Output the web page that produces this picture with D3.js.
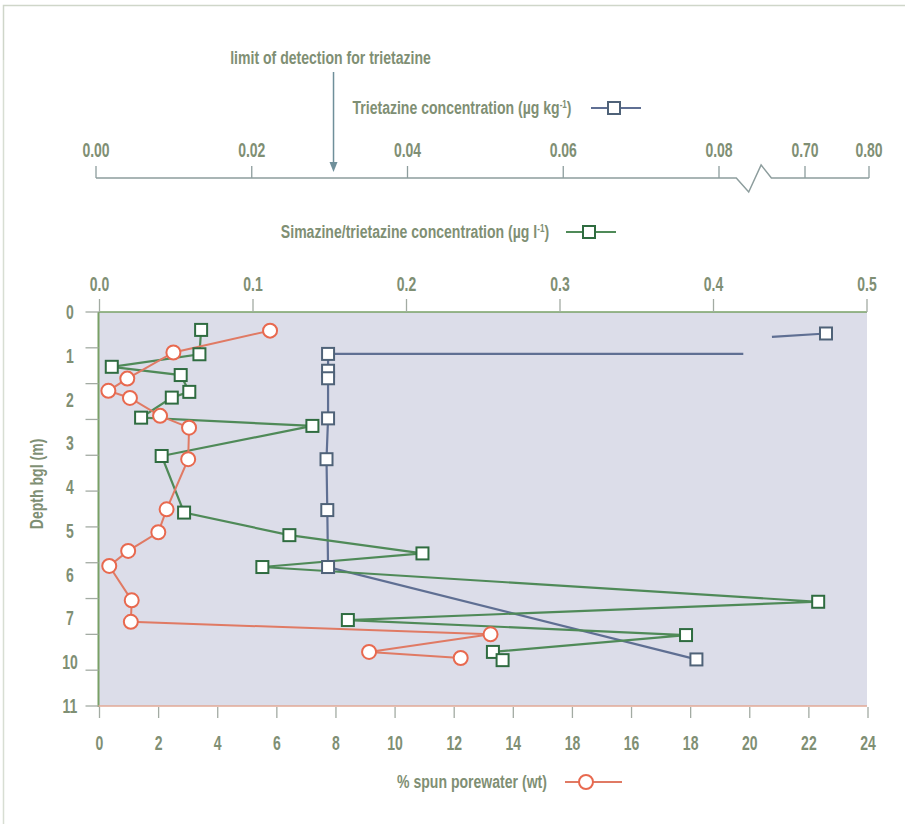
<!DOCTYPE html>
<html><head><meta charset="utf-8">
<script src="https://cdn.jsdelivr.net/npm/d3@7"></script>
<style>
html,body{margin:0;padding:0;background:#fff;}
svg{display:block;font-family:"Liberation Sans",Arial,sans-serif;}
</style></head>
<body><svg id="c" width="905" height="824"></svg>
<script>
// ---- data ----
// depth values are in plotted depth-axis units (ticks 0..11)
const depthTicks = [0,1,2,3,4,5,6,7,8,9,10,11];
const depthLabels = ["0","1","2","3","4","5","6","7","10","11"];
const porewaterTickVals = [0,2,4,6,8,10,12,14,16,18,20,22,24,26];
const porewaterTickLabels = ["0","2","4","6","8","10","12","14","18","16","18","20","22","24"];
const simTickVals = [0,0.1,0.2,0.3,0.4,0.5];
const simTickLabels = ["0.0","0.1","0.2","0.3","0.4","0.5"];
const trietTickVals = [0,0.02,0.04,0.06,0.08,0.70,0.80];
const trietTickLabels = ["0.00","0.02","0.04","0.06","0.08","0.70","0.80"];
const detectionLimit = 0.0305;

const porewaterDepth = [0.52,1.13,1.86,2.20,2.40,2.90,3.23,4.11,5.51,6.15,6.67,7.09,8.05,8.65,9.00,9.49,9.66];
const porewaterValue = [5.77,2.50,0.94,0.30,1.03,2.05,3.03,3.00,2.27,1.99,0.97,0.33,1.09,1.06,13.23,9.12,12.22];

const simazineDepth = [0.50,1.18,1.53,1.76,2.23,2.39,2.95,3.18,4.02,5.60,6.23,6.74,7.12,8.09,8.60,9.02,9.49,9.72];
const simazineValue = [0.0662,0.0651,0.0080,0.0529,0.0585,0.0471,0.0271,0.1387,0.0405,0.0551,0.1237,0.2104,0.1061,0.4682,0.1618,0.3821,0.2563,0.2626];

const trietazineDepth = [0.60,1.17,1.64,1.85,2.97,4.11,5.53,7.12,9.70];
const trietazineValue = [0.7328,0.0298,0.0298,0.0298,0.0298,0.0296,0.0297,0.0298,0.0771];

// ---- layout ----
const svg = d3.select("#c");
const L = 98.5, R = 867, T = 312, B = 706;
const textCol = "#7f8f74", greenAxis = "#79a066", tickCol = "#a3aba3";
const blueCol = "#5f6f93", blueMark = "#4f6278";
const greenCol = "#4f8a58", greenMark = "#2f6c40";
const orangeCol = "#e07a64", orangeMark = "#e8694f";

const y = d3.scaleLinear().domain([0,11]).range([T,B]);
const xPore = d3.scaleLinear().domain([0,26]).range([99.5,868]);
const xSim = d3.scaleLinear().domain([0,0.5]).range([99.5,867]);
// broken axis: [0,0.08] normal, (0.08,0.65) break, [0.65,0.80] upper part
const xTri = d3.scaleLinear().domain([0,0.08,0.65,0.80]).range([96,719,773,869]);

// condensed text helper
function txt(x, yy, str, size, sx, anchor, rot){
  const t = svg.append("text")
    .attr("transform", `translate(${x},${yy})` + (rot ? ` rotate(${rot})` : "") + ` scale(${sx},1)`)
    .attr("text-anchor", anchor || "middle").attr("font-size", size)
    .attr("font-weight", "bold").attr("fill", textCol);
  if (str !== null) t.text(str);
  return t;
}
const TICK_FS = 20, TICK_SX = 0.7, TITLE_FS = 19, TITLE_SX = 0.74;

// frame
svg.append("path").attr("d",`M3.5,60 V5.5 H905`).attr("fill","none").attr("stroke","#cfd6c9").attr("stroke-width",1.5);
svg.append("line").attr("x1",3.5).attr("x2",3.5).attr("y1",60).attr("y2",824).attr("stroke","#d8ded3").attr("stroke-width",1.5);

// plot background
svg.append("rect").attr("x",L).attr("y",T).attr("width",R-L).attr("height",B-T).attr("fill","#dcdde9");

// ---- top (trietazine) axis ----
const topY = 178;
const bx0 = xTri(0.08), bx1 = xTri(0.65), bw = bx1-bx0;
svg.append("path")
  .attr("d",`M${xTri(0)},${topY} H${bx0+bw*0.32} L${bx0+bw*0.55},${topY+14} L${bx0+bw*0.78},${topY-13} L${bx0+bw*0.97},${topY} H${xTri(0.80)}`)
  .attr("fill","none").attr("stroke","#8d9d9d").attr("stroke-width",1.5);
trietTickVals.forEach((v,i)=>{
  svg.append("line").attr("x1",xTri(v)).attr("x2",xTri(v)).attr("y1",topY).attr("y2",topY-12)
    .attr("stroke","#8d9d9d").attr("stroke-width",1.3);
  txt(xTri(v), 157, trietTickLabels[i], TICK_FS, TICK_SX);
});
// detection limit
txt(xTri(detectionLimit)-3, 64, "limit of detection for trietazine", TITLE_FS, TITLE_SX);
svg.append("line").attr("x1",xTri(detectionLimit)).attr("x2",xTri(detectionLimit)).attr("y1",72).attr("y2",166)
  .attr("stroke","#6f8f9a").attr("stroke-width",1.5);
svg.append("path").attr("d",`M${xTri(detectionLimit)-4},${162} L${xTri(detectionLimit)},${172} L${xTri(detectionLimit)+4},${162} Z`)
  .attr("fill","#6f8f9a");

// legend helper
function legendSq(cx,cy,lineCol,markCol){
  svg.append("line").attr("x1",cx-23).attr("x2",cx+27).attr("y1",cy).attr("y2",cy).attr("stroke",lineCol).attr("stroke-width",2);
  svg.append("rect").attr("x",cx-6).attr("y",cy-6).attr("width",12).attr("height",12).attr("fill","#fff").attr("stroke",markCol).attr("stroke-width",2);
}
const t1 = txt(462, 114, null, TITLE_FS, TITLE_SX);
t1.append("tspan").text("Trietazine concentration (µg kg");
t1.append("tspan").attr("dy",-6).attr("font-size",11).text("-1");
t1.append("tspan").attr("dy",6).text(")");
legendSq(614,108,blueCol,blueMark);

const t2 = txt(415, 238, null, TITLE_FS, TITLE_SX);
t2.append("tspan").text("Simazine/trietazine concentration (µg l");
t2.append("tspan").attr("dy",-6).attr("font-size",11).text("-1");
t2.append("tspan").attr("dy",6).text(")");
legendSq(589,232,greenCol,greenMark);

// ---- middle (simazine) axis = plot top ----
svg.append("line").attr("x1",L).attr("x2",R).attr("y1",T).attr("y2",T).attr("stroke",greenAxis).attr("stroke-width",1.5);
simTickVals.forEach((v,i)=>{
  svg.append("line").attr("x1",xSim(v)).attr("x2",xSim(v)).attr("y1",T).attr("y2",T-13).attr("stroke",tickCol).attr("stroke-width",1.3);
  txt(xSim(v), 291, simTickLabels[i], TICK_FS, TICK_SX);
});

// ---- left (depth) axis ----
svg.append("line").attr("x1",L).attr("x2",L).attr("y1",T).attr("y2",B+1).attr("stroke",greenAxis).attr("stroke-width",2);
depthTicks.forEach(v=>{
  svg.append("line").attr("x1",L-13).attr("x2",L).attr("y1",y(v)).attr("y2",y(v)).attr("stroke",tickCol).attr("stroke-width",1.3);
});
depthLabels.forEach((lab,i)=>{
  txt(70, y(i*11/(depthLabels.length-1))+7, lab, TICK_FS, TICK_SX);
});
txt(43, y(4.8), "Depth bgl (m)", TITLE_FS, TITLE_SX, "middle", -90);

// ---- bottom (porewater) axis ----
svg.append("line").attr("x1",L).attr("x2",R).attr("y1",B).attr("y2",B).attr("stroke","#e2a896").attr("stroke-width",1.5);
porewaterTickVals.forEach((v,i)=>{
  svg.append("line").attr("x1",xPore(v)).attr("x2",xPore(v)).attr("y1",B+1).attr("y2",B+12).attr("stroke",tickCol).attr("stroke-width",1.3);
  txt(xPore(v), 750, porewaterTickLabels[i], TICK_FS, TICK_SX);
});
txt(472, 788, "% spun porewater (wt)", TITLE_FS, TITLE_SX);
svg.append("line").attr("x1",565).attr("x2",622).attr("y1",782).attr("y2",782).attr("stroke",orangeCol).attr("stroke-width",2);
svg.append("circle").attr("cx",586).attr("cy",782).attr("r",7).attr("fill","#fff").attr("stroke",orangeMark).attr("stroke-width",2);

// ---- series ----
const line = d3.line();
// trietazine
const triPts = trietazineValue.map((v,i)=>[xTri(v),y(trietazineDepth[i])]);
svg.append("path").attr("d",line(triPts.slice(1))).attr("fill","none").attr("stroke",blueCol).attr("stroke-width",2.2);
// segment crossing the axis break (drawn as two pieces)
const p0 = triPts[0], p1 = triPts[1];
svg.append("path").attr("d",line([p1,[bx0+bw*0.45,p1[1]]])).attr("fill","none").attr("stroke",blueCol).attr("stroke-width",2.2);
svg.append("path").attr("d",line([[bx0+bw*0.98,p0[1]+(p1[1]-p0[1])*0.17],p0])).attr("fill","none").attr("stroke",blueCol).attr("stroke-width",2.2);

// simazine/trietazine
const simPts = simazineValue.map((v,i)=>[xSim(v),y(simazineDepth[i])]);
svg.append("path").attr("d",line(simPts)).attr("fill","none").attr("stroke",greenCol).attr("stroke-width",2.2);

// porewater
const porePts = porewaterValue.map((v,i)=>[xPore(v),y(porewaterDepth[i])]);
svg.append("path").attr("d",line(porePts)).attr("fill","none").attr("stroke",orangeCol).attr("stroke-width",2);

// markers
svg.append("g").selectAll("rect").data(triPts).join("rect")
  .attr("x",d=>d[0]-6).attr("y",d=>d[1]-6).attr("width",12).attr("height",12)
  .attr("fill","#fff").attr("stroke",blueMark).attr("stroke-width",2);
svg.append("g").selectAll("rect").data(simPts).join("rect")
  .attr("x",d=>d[0]-6).attr("y",d=>d[1]-6).attr("width",12).attr("height",12)
  .attr("fill","#fff").attr("stroke",greenMark).attr("stroke-width",2);
svg.append("g").selectAll("circle").data(porePts).join("circle")
  .attr("cx",d=>d[0]).attr("cy",d=>d[1]).attr("r",7)
  .attr("fill","#fff").attr("stroke",orangeMark).attr("stroke-width",2);
</script></body></html>
